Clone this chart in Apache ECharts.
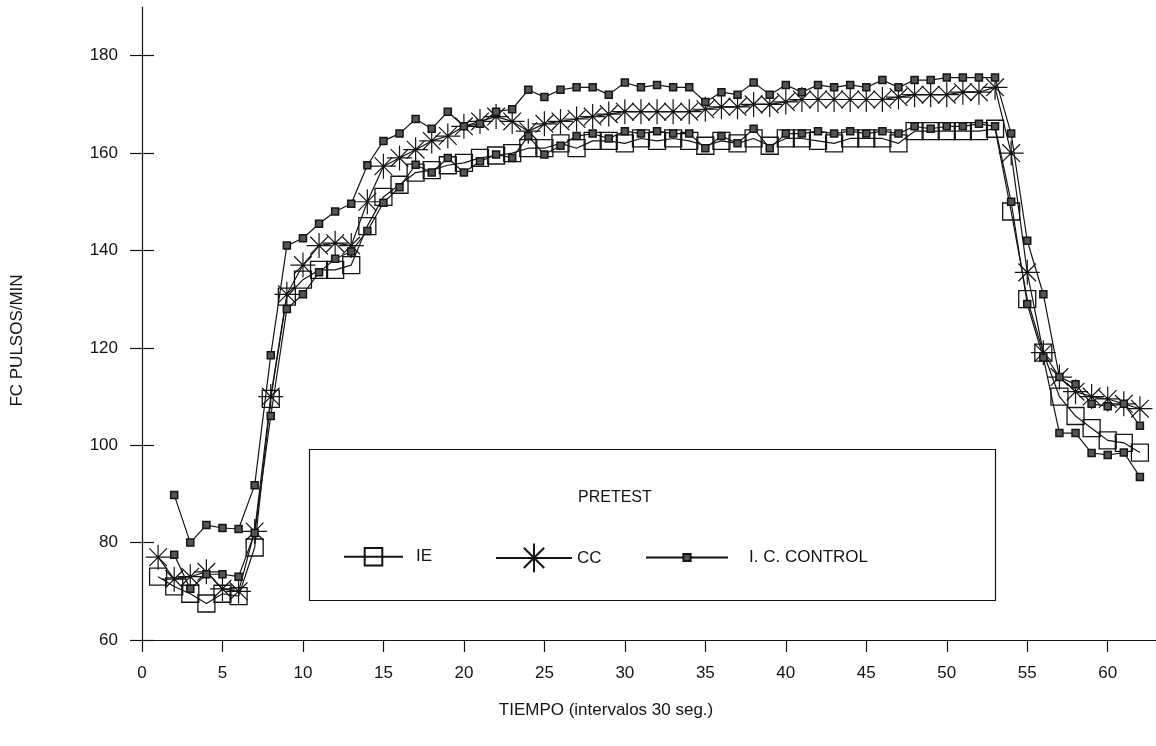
<!DOCTYPE html>
<html><head><meta charset="utf-8">
<script src="https://cdn.jsdelivr.net/npm/echarts@6/dist/echarts.min.js"></script>
<style>html,body{margin:0;padding:0;background:#fff}#c{width:1156px;height:746px}</style>
</head><body><div id="c"></div>
<script>
// Time intervals (30 s each)
const timeSteps = [1,2,3,4,5,6,7,8,9,10,11,12,13,14,15,16,17,18,19,20,21,22,23,24,25,26,27,28,29,30,31,32,33,34,35,36,37,38,39,40,41,42,43,44,45,46,47,48,49,50,51,52,53,54,55,56,57,58,59,60,61,62];

const ieValues = [73,71,69.5,67.5,69.5,69,79,109.5,130.5,134,136,136,137,145,151,153.5,156,156.5,157.5,158,159,159.5,160,161,161,162,161,162.5,162.5,162,163,162.5,163,162.5,161.5,162.5,162,163,161.5,163,163,162.5,162,163,163,163,162,164.5,164.5,164.5,164.5,164.5,165,148,130,119,110,106,103.5,101,100.5,98.5];

const ccValues = [77,72.5,73,74,70.5,70,82.3,110,131,137,141,141.5,141,150,157.3,159,160.7,162.5,163.5,165.5,166.5,167.5,166.5,164.5,166,166.5,167,167.5,168,168.5,168.5,168.5,168.5,168.5,169,169.5,169.5,170,170,170.5,171,171,171,171,171,171,171.5,172,172,172,172.5,172.5,173.5,160,135.5,119,114,111,110,109.5,108.5,107.5];

// small filled squares, upper line (starts at interval 2)
const controlValues = [null,89.8,80,83.6,83,82.8,91.8,118.5,141,142.5,145.5,148,149.6,157.5,162.5,164,167,165,168.5,165.5,166,168.5,169,173,171.5,173,173.5,173.5,172,174.5,173.5,174,173.5,173.5,170.5,172.5,172,174.5,172,174,172.5,174,173.5,174,173.5,175,173.5,175,175,175.5,175.5,175.5,175.5,164,142,131,114,112.5,108.5,108,108.5,104];

// small filled squares, lower line (starts at interval 2)
const control2Values = [null,77.5,70.5,73.5,73.5,73,82,106,128,131,135.5,138.3,139.8,144,149.8,153,157.6,156,159,156,158.3,159.7,159,163.5,159.7,161.5,163.5,164,163,164.5,164,164.5,164,164,161,163.5,162,165,161,164,164,164.5,164,164.5,164,164.5,164,165.5,165,165.5,165.5,166,165.5,150,129,118,102.5,102.5,98.4,98,98.5,93.5];

const xTicks = [0,5,10,15,20,25,30,35,40,45,50,55,60];
const yTicks = [60,80,100,120,140,160,180];
const seriesNames = ['IE','CC','I. C. CONTROL','CONTROL'];

function pairs(vals){
  const out = [];
  for (let i = 0; i < timeSteps.length; i++) {
    if (vals[i] !== null) out.push([timeSteps[i], vals[i]]);
  }
  return out;
}

const ink = '#141414';
const FONT = '"Liberation Sans", Arial, sans-serif';
const starPath = 'path://M0,-10L0,10M-10,0L10,0M-7.07,-7.07L7.07,7.07M-7.07,7.07L7.07,-7.07';
const legendText = {fontFamily: FONT, fontSize: 17, color: ink};

const chart = echarts.init(document.getElementById('c'), null, {renderer:'canvas'});
chart.setOption({
  animation: false,
  backgroundColor: '#fff',
  grid: {left: 142, right: -4, top: 7, bottom: 106, containLabel: false},
  legend: [
    {data: ['IE'], left: 338, top: 542, itemWidth: 59, itemHeight: 22,
     textStyle: Object.assign({padding:[0,0,0,8]}, legendText)},
    {data: ['CC'], left: 490, top: 536, itemWidth: 76, itemHeight: 36,
     textStyle: Object.assign({padding:[0,0,0,0]}, legendText)},
    {data: ['I. C. CONTROL'], left: 640, top: 544, itemWidth: 82, itemHeight: 9,
     textStyle: Object.assign({padding:[0,0,0,16]}, legendText)}
  ],
  graphic: [
    {type:'rect', left: 307, top: 447, shape:{width: 686, height: 151}, style:{fill:'none', stroke: ink, lineWidth: 1.2}, silent:true},
    {type:'text', left: 578, top: 490, style:{text:'PRETEST', font: '16px ' + FONT, fill: ink}, silent:true}
  ],
  xAxis: {
    type: 'value', min: 0, max: 63, interval: 5,
    name: 'TIEMPO (intervalos 30 seg.)', nameLocation: 'middle', nameGap: 62,
    nameTextStyle: {fontFamily: FONT, fontSize: 17, color: ink, padding:[0,86,0,0]},
    axisLine: {show: true, onZero: false, lineStyle: {color: ink, width: 1.2}},
    axisTick: {show: true, length: 12, lineStyle: {color: ink, width: 1.2}, customValues: xTicks},
    axisLabel: {fontFamily: FONT, fontSize: 17, color: ink, margin: 25, customValues: xTicks},
    splitLine: {show: false}
  },
  yAxis: [{
    type: 'value', min: 60, max: 190, interval: 20,
    name: 'FC PULSOS/MIN', nameLocation: 'middle', nameGap: 116,
    nameTextStyle: {fontFamily: FONT, fontSize: 17, color: ink, padding:[0,34,0,0]},
    axisLine: {show: true, onZero: false, lineStyle: {color: ink, width: 1.2}},
    axisTick: {show: true, length: 12, lineStyle: {color: ink, width: 1.2}, customValues: yTicks},
    axisLabel: {fontFamily: FONT, fontSize: 17, color: ink, margin: 24, customValues: yTicks},
    splitLine: {show: false}
  },{
    type: 'value', min: 60, max: 190, interval: 20, position: 'left',
    axisLine: {show: false},
    axisTick: {show: true, inside: true, length: 12, lineStyle: {color: ink, width: 1.2}, customValues: yTicks},
    axisLabel: {show: false},
    splitLine: {show: false}
  }],
  series: [
    {name: seriesNames[0], type: 'line', data: pairs(ieValues), symbol: 'rect', symbolSize: 17,
     lineStyle: {color: ink, width: 1.2}, itemStyle: {color: 'rgba(255,255,255,0)', borderColor: ink, borderWidth: 1.3}},
    {name: seriesNames[1], type: 'line', data: pairs(ccValues), symbol: starPath, symbolSize: 25,
     lineStyle: {color: ink, width: 1.2}, itemStyle: {color: 'none', borderColor: ink, borderWidth: 1.2}},
    {name: seriesNames[2], type: 'line', data: pairs(controlValues), symbol: 'rect', symbolSize: 7,
     lineStyle: {color: ink, width: 1.2}, itemStyle: {color: '#555', borderColor: ink, borderWidth: 1.5}},
    {name: seriesNames[3], type: 'line', data: pairs(control2Values), symbol: 'rect', symbolSize: 7,
     lineStyle: {color: ink, width: 1.2}, itemStyle: {color: '#555', borderColor: ink, borderWidth: 1.5}}
  ]
});
</script>
</body></html>
